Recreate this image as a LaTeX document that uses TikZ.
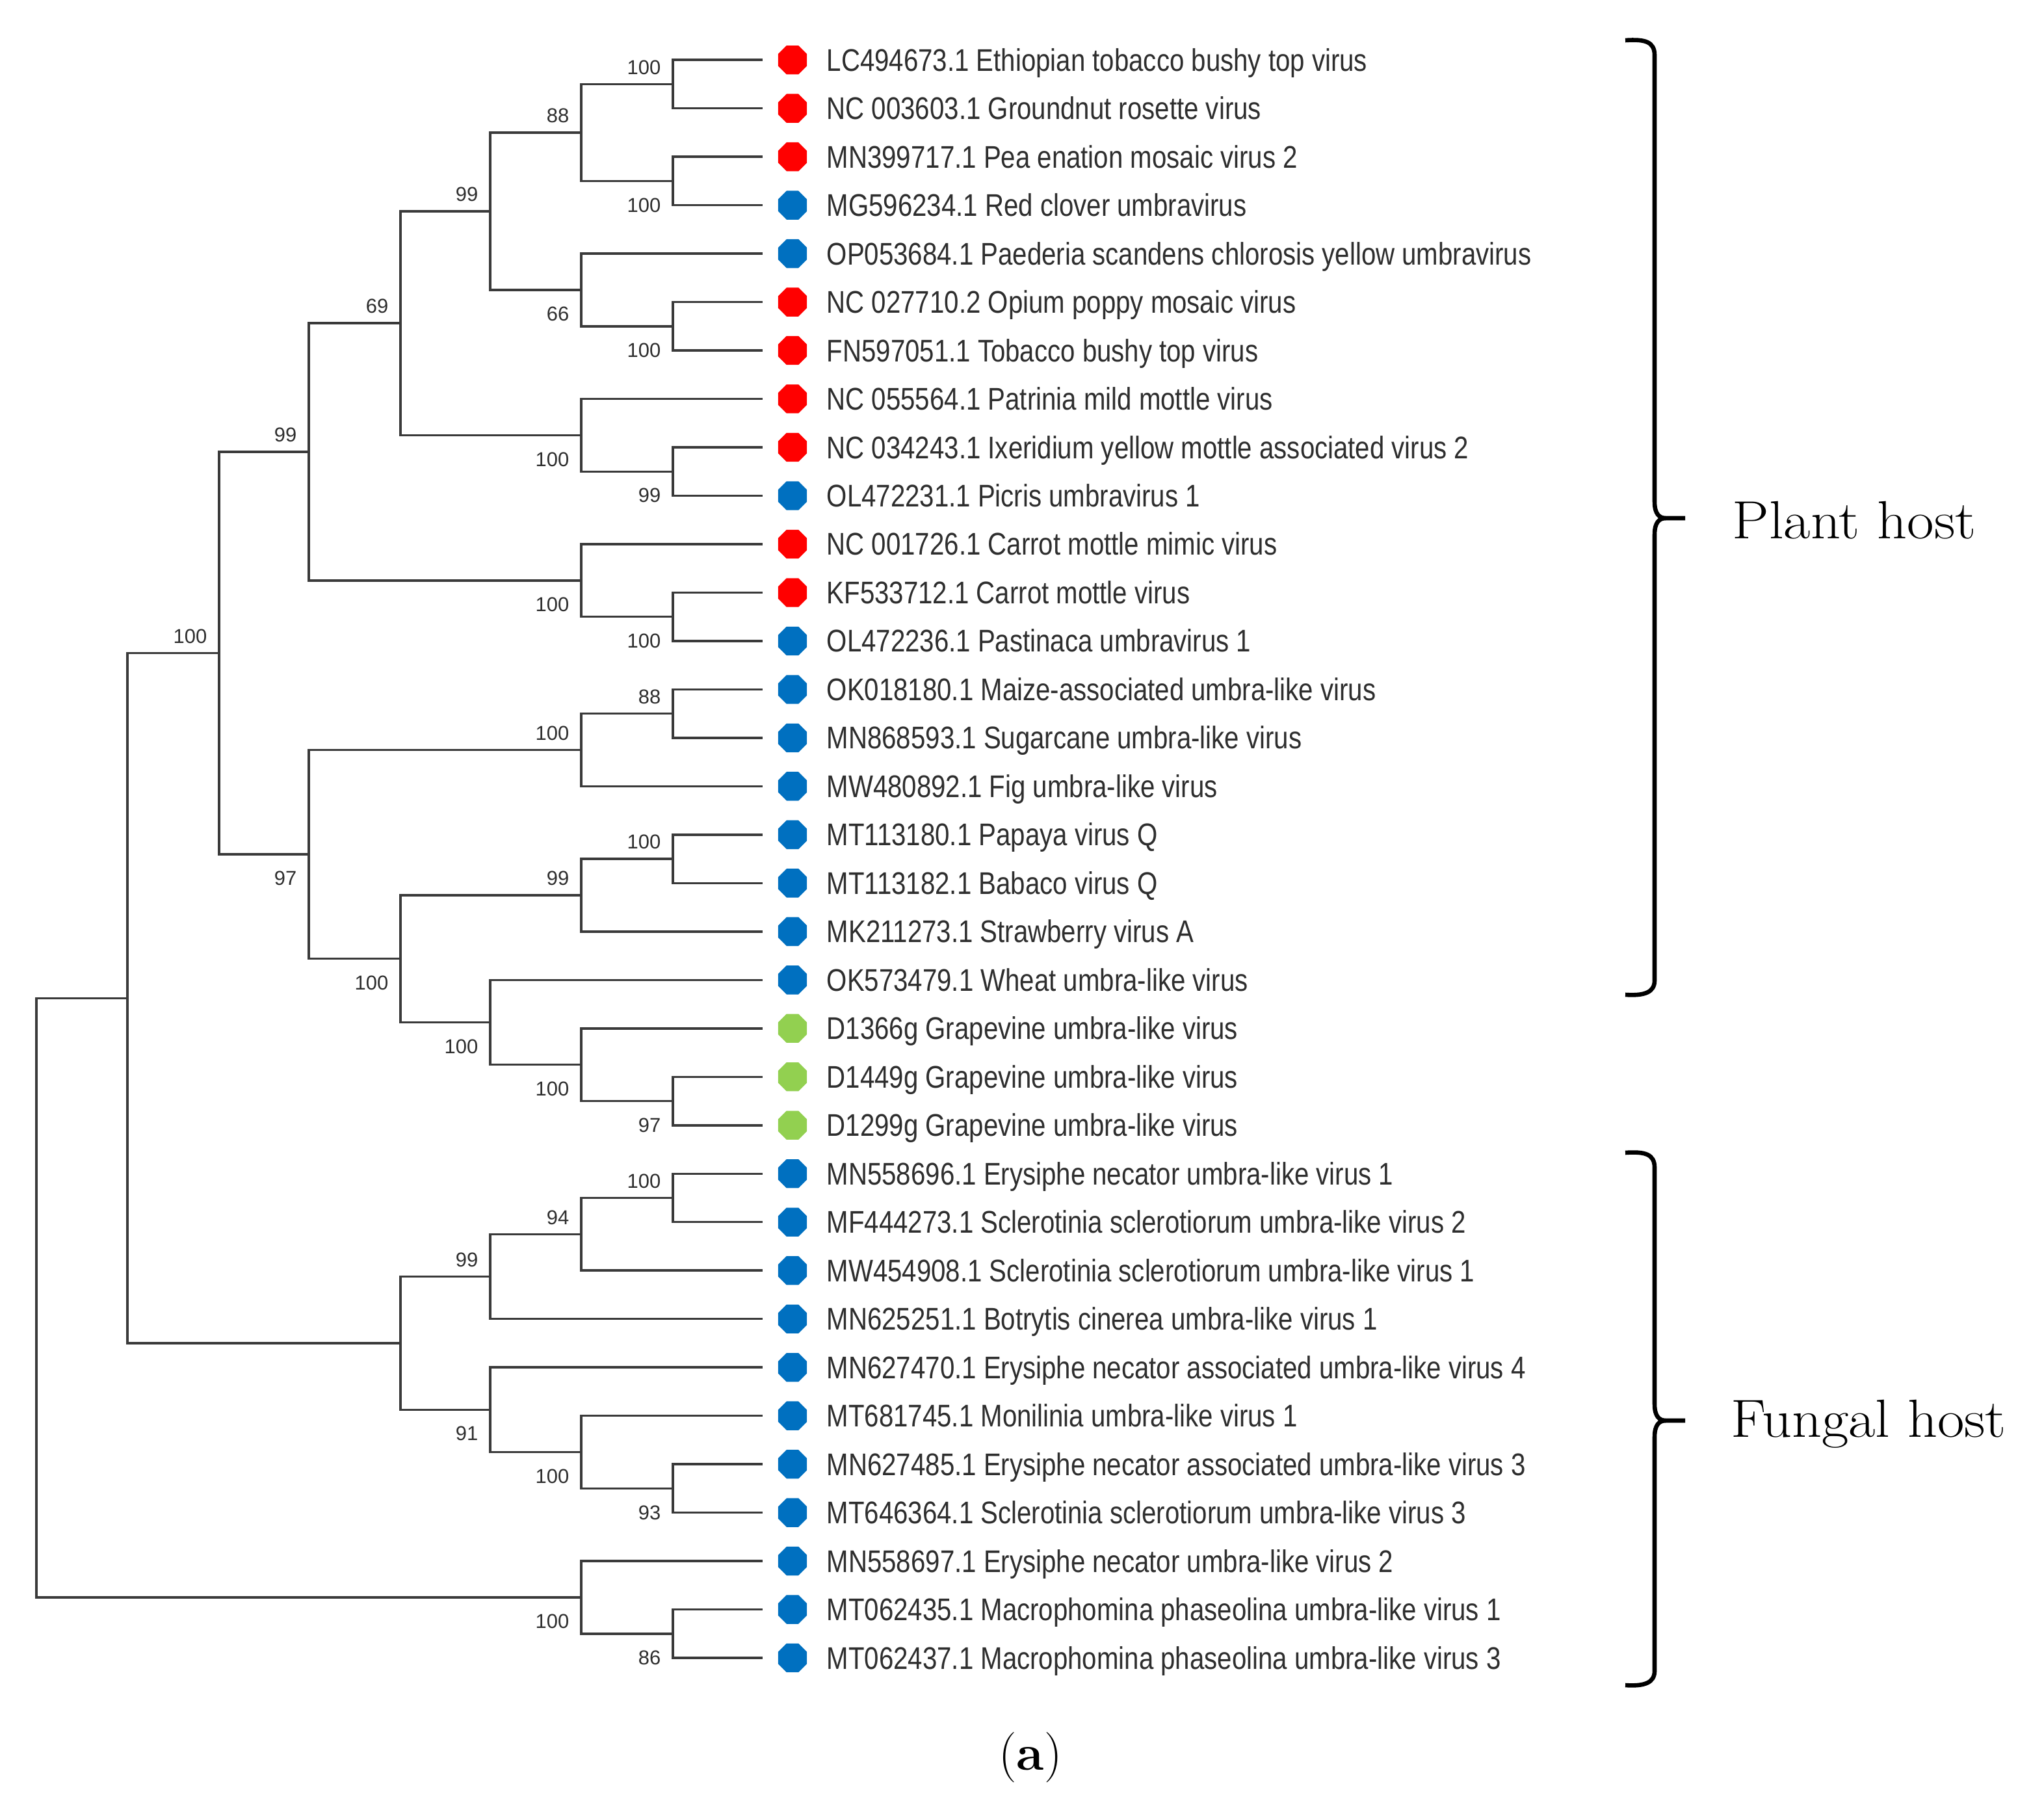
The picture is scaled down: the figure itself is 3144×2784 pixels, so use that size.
\documentclass[tikz,border=0pt]{standalone}
\usepackage{fontspec}
\newfontfamily\leaffont[FakeStretch=0.835]{Liberation Sans}
\newfontfamily\bsfont{Liberation Sans}
\newfontfamily\hostfont[FakeStretch=1.09]{Latin Modern Roman}
\usetikzlibrary{shapes.geometric}
\definecolor{rd}{HTML}{FF0000}
\definecolor{bl}{HTML}{0070C0}
\definecolor{gr}{HTML}{92D050}
\definecolor{ln}{HTML}{3A3A3A}
\definecolor{tx}{HTML}{2E2E2E}
\newcommand\ty[1]{17.72+74.48*#1}
\begin{document}
\begin{tikzpicture}[x=0.1mm,y=-0.1mm,
 branch/.style={draw=ln,line width=0.35mm},
 dotmark/.style={regular polygon,regular polygon sides=8,minimum size=4.8mm,inner sep=0pt,draw=none},
 leaflab/.style={anchor=base west,inner sep=0pt,text=tx,font=\leaffont\fontsize{13.7}{16}\selectfont},
 bs/.style={anchor=east,inner sep=0pt,text=tx,font=\bsfont\fontsize{8.8}{10}\selectfont},
 brace/.style={draw=black,line width=0.66mm},
 hostlab/.style={anchor=west,inner sep=0pt,font=\hostfont\fontsize{23.5}{28}\selectfont}]
\useasboundingbox (0,0) rectangle (3144,2784);
\fill[white] (0,0) rectangle (3144,2784);
% leaves
\foreach \i/\col/\lab in {%
1/rd/LC494673.1 Ethiopian tobacco bushy top virus,%
2/rd/NC 003603.1 Groundnut rosette virus,%
3/rd/MN399717.1 Pea enation mosaic virus 2,%
4/bl/MG596234.1 Red clover umbravirus,%
5/bl/OP053684.1 Paederia scandens chlorosis yellow umbravirus,%
6/rd/NC 027710.2 Opium poppy mosaic virus,%
7/rd/FN597051.1 Tobacco bushy top virus,%
8/rd/NC 055564.1 Patrinia mild mottle virus,%
9/rd/NC 034243.1 Ixeridium yellow mottle associated virus 2,%
10/bl/OL472231.1 Picris umbravirus 1,%
11/rd/NC 001726.1 Carrot mottle mimic virus,%
12/rd/KF533712.1 Carrot mottle virus,%
13/bl/OL472236.1 Pastinaca umbravirus 1,%
14/bl/OK018180.1 Maize-associated umbra-like virus,%
15/bl/MN868593.1 Sugarcane umbra-like virus,%
16/bl/MW480892.1 Fig umbra-like virus,%
17/bl/MT113180.1 Papaya virus Q,%
18/bl/MT113182.1 Babaco virus Q,%
19/bl/MK211273.1 Strawberry virus A,%
20/bl/OK573479.1 Wheat umbra-like virus,%
21/gr/D1366g Grapevine umbra-like virus,%
22/gr/D1449g Grapevine umbra-like virus,%
23/gr/D1299g Grapevine umbra-like virus,%
24/bl/MN558696.1 Erysiphe necator umbra-like virus 1,%
25/bl/MF444273.1 Sclerotinia sclerotiorum umbra-like virus 2,%
26/bl/MW454908.1 Sclerotinia sclerotiorum umbra-like virus 1,%
27/bl/MN625251.1 Botrytis cinerea umbra-like virus 1,%
28/bl/MN627470.1 Erysiphe necator associated umbra-like virus 4,%
29/bl/MT681745.1 Monilinia umbra-like virus 1,%
30/bl/MN627485.1 Erysiphe necator associated umbra-like virus 3,%
31/bl/MT646364.1 Sclerotinia sclerotiorum umbra-like virus 3,%
32/bl/MN558697.1 Erysiphe necator umbra-like virus 2,%
33/bl/MT062435.1 Macrophomina phaseolina umbra-like virus 1,%
34/bl/MT062437.1 Macrophomina phaseolina umbra-like virus 3%
}{%
  \coordinate (l\i) at (1173,{\ty{\i}});
  \node[dotmark,fill=\col] (d\i) at (1219,{\ty{\i}}) {};
  \node[leaflab] (t\i) at (1271,{\ty{\i}+17}) {\lab};
}
% internal nodes
\coordinate (c12) at (1035,{\ty{1.5}});
\coordinate (c34) at (1035,{\ty{3.5}});
\coordinate (nI) at (894,{\ty{2.5}});
\coordinate (c67) at (1035,{\ty{6.5}});
\coordinate (nJ) at (894,{\ty{5.75}});
\coordinate (nG) at (754,{\ty{4.125}});
\coordinate (c910) at (1035,{\ty{9.5}});
\coordinate (nH) at (894,{\ty{8.75}});
\coordinate (nE) at (616,{\ty{6.4375}});
\coordinate (c1213) at (1035,{\ty{12.5}});
\coordinate (nF) at (894,{\ty{11.75}});
\coordinate (nC) at (475,{\ty{9.09375}});
\coordinate (c1415) at (1035,{\ty{14.5}});
\coordinate (nK) at (894,{\ty{15.25}});
\coordinate (c1718) at (1035,{\ty{17.5}});
\coordinate (nM) at (894,{\ty{18.25}});
\coordinate (c2223) at (1035,{\ty{22.5}});
\coordinate (nO) at (894,{\ty{21.75}});
\coordinate (nN) at (754,{\ty{20.875}});
\coordinate (nL) at (616,{\ty{19.5625}});
\coordinate (nD) at (475,{\ty{17.40625}});
\coordinate (nB) at (337,{\ty{13.25}});
\coordinate (c2425) at (1035,{\ty{24.5}});
\coordinate (nS) at (894,{\ty{25.25}});
\coordinate (nQ) at (754,{\ty{26.125}});
\coordinate (c3031) at (1035,{\ty{30.5}});
\coordinate (nT) at (894,{\ty{29.75}});
\coordinate (nR) at (754,{\ty{28.875}});
\coordinate (nP) at (616,{\ty{27.5}});
\coordinate (nA) at (196,{\ty{20.375}});
\coordinate (c3334) at (1035,{\ty{33.5}});
\coordinate (nU) at (894,{\ty{32.75}});
\coordinate (root) at (56,{\ty{26.5625}});
% branches
\foreach \p/\ch in {c12/l1,c12/l2,c34/l3,c34/l4,nI/c12,nI/c34,
  c67/l6,c67/l7,nJ/l5,nJ/c67,nG/nI,nG/nJ,
  c910/l9,c910/l10,nH/l8,nH/c910,nE/nG,nE/nH,
  c1213/l12,c1213/l13,nF/l11,nF/c1213,nC/nE,nC/nF,
  c1415/l14,c1415/l15,nK/c1415,nK/l16,
  c1718/l17,c1718/l18,nM/c1718,nM/l19,
  c2223/l22,c2223/l23,nO/l21,nO/c2223,nN/l20,nN/nO,
  nL/nM,nL/nN,nD/nK,nD/nL,nB/nC,nB/nD,
  c2425/l24,c2425/l25,nS/c2425,nS/l26,nQ/nS,nQ/l27,
  c3031/l30,c3031/l31,nT/l29,nT/c3031,nR/l28,nR/nT,
  nP/nQ,nP/nR,nA/nB,nA/nP,
  c3334/l33,c3334/l34,nU/l32,nU/c3334,root/nA,root/nU}{
  \draw[branch] (\p) |- (\ch);
}
% bootstrap labels above
\foreach \n/\v in {c12/100,nI/88,nG/99,nE/69,nC/99,nB/100,nK/100,c1415/88,nM/99,c1718/100,nQ/99,nS/94,c2425/100}{
  \node[bs] (ba-\n) at ([shift={(-18,-26)}]\n) {\v};
}
% bootstrap labels below
\foreach \n/\v in {c34/100,nJ/66,c67/100,nH/100,c910/99,nF/100,c1213/100,nD/97,nL/100,nN/100,nO/100,c2223/97,nR/91,nT/100,c3031/93,nU/100,c3334/86}{
  \node[bs] (bb-\n) at ([shift={(-18,37)}]\n) {\v};
}
% braces
\draw[brace] (2500,62) .. controls (2530,60) and (2545,64) .. (2545,85) -- (2545,772) .. controls (2545,790) and (2552,797) .. (2562,797) -- (2592,797);
\draw[brace] (2562,797) .. controls (2552,797) and (2545,804) .. (2545,822) -- (2545,1508) .. controls (2545,1526) and (2530,1532) .. (2500,1530);
\draw[brace] (2500,1773) .. controls (2530,1771) and (2545,1775) .. (2545,1796) -- (2545,2160) .. controls (2545,2178) and (2552,2185) .. (2562,2185) -- (2592,2185);
\draw[brace] (2562,2185) .. controls (2552,2185) and (2545,2192) .. (2545,2210) -- (2545,2570) .. controls (2545,2588) and (2530,2594) .. (2500,2592);
\node[hostlab] (plant) at (2664,800) {Plant host};
\node[hostlab] (fungal) at (2662,2190) {Fungal host};
\node[font=\fontsize{22}{26}\selectfont,inner sep=0pt] (cap) at (1585,2703) {(\textbf{a})};
\end{tikzpicture}
\end{document}
